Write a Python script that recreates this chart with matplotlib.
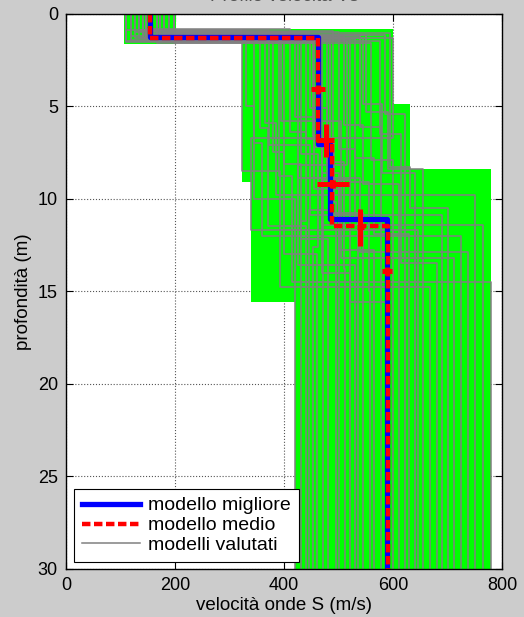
import matplotlib
matplotlib.use("Agg")
import matplotlib.pyplot as plt
import matplotlib.patches as Patches

plt.rcParams['font.family'] = ['Liberation Sans', 'DejaVu Sans']

# search space per layer (green boxes): v min/max, top/bottom depth
box_vmin = [106, 322, 339, 419]
box_vmax = [202, 600, 631, 780]
box_ztop = [0.0, 0.85, 4.9, 8.4]
box_zbot = [1.65, 9.1, 15.6, 30.0]

# evaluated models: layer velocities and interface depths
mod_v1 = [110, 126, 140, 158, 172, 180, 198, 118, 133, 147, 158, 172, 188, 198, 110, 118, 133, 147,
          166, 180, 188, 110, 126, 140, 158, 166, 180, 198, 110, 133, 147, 166, 172, 188, 118, 140]
mod_h1 = [0.9, 1.3, 1.1, 1.5, 1.2, 1.0, 1.6, 1.4, 0.95, 1.25, 1.35, 1.15, 1.45, 1.05, 1.55, 1.2, 1.3, 0.85,
          1.4, 1.1, 1.25, 1.5, 1.0, 1.35, 1.2, 1.6, 1.15, 1.3, 1.45, 0.9, 1.25, 1.05, 1.4, 1.2, 1.5, 1.3]
mod_v2 = [330, 355, 380, 400, 420, 440, 455, 470, 490, 510, 530, 550, 575, 595, 345, 365, 390, 410,
          430, 448, 462, 478, 500, 520, 540, 560, 585, 600, 322, 372, 395, 425, 452, 485, 515, 545]
mod_h2 = [5.0, 6.2, 7.5, 8.1, 5.6, 6.8, 7.2, 8.6, 9.0, 6.0, 7.8, 5.3, 6.5, 8.3, 7.0, 5.9, 8.8, 6.4,
          7.6, 5.1, 6.9, 8.0, 7.3, 9.1, 6.1, 7.9, 5.4, 6.7, 8.5, 7.1, 5.8, 8.9, 6.6, 7.4, 8.2, 4.9]
mod_v3 = [345, 370, 400, 430, 455, 470, 485, 500, 520, 545, 565, 590, 615, 631, 360, 385, 415, 440,
          462, 478, 492, 510, 530, 555, 578, 600, 622, 339, 392, 448, 505, 540, 470, 488, 425, 580]
mod_h3 = [10.0, 11.5, 13.0, 12.2, 9.5, 14.0, 10.8, 12.8, 15.6, 9.2, 11.9, 8.4, 13.5, 10.5, 12.0, 9.8, 14.5, 11.2,
          12.6, 9.0, 10.2, 13.8, 11.0, 15.0, 10.4, 12.4, 9.6, 11.7, 14.8, 10.9, 13.2, 12.9, 11.4, 10.6, 13.6, 8.6]
mod_v4 = [419, 440, 460, 480, 500, 520, 545, 565, 590, 610, 630, 655, 680, 700, 725, 750, 780, 430,
          452, 472, 495, 512, 535, 558, 578, 600, 622, 645, 668, 690, 712, 738, 765, 445, 530, 640]

# best and mean model
best_v = [153, 462, 484, 588]
best_z = [1.25, 7.05, 11.1]
mean_v = [153, 462, 488, 590]
mean_z = [1.3, 6.9, 11.5]

# red crosses (value, depth, v error, z error)
err_v = [462, 476, 490, 540, 589]
err_z = [4.05, 6.85, 9.2, 11.55, 13.9]
err_dv = [13, 15, 29, 6, 9]
err_dz = [0.22, 0.9, 0.2, 1.0, 0.2]

zmax = 30


def stairs(vs, zs):
    vel = [vs[0]]
    dep = [0]
    for i, z in enumerate(zs):
        vel += [vs[i], vs[i + 1]]
        dep += [z, z]
    vel.append(vs[-1])
    dep.append(zmax)
    return vel, dep


fig = plt.figure(figsize=(5.24, 6.17), dpi=100, facecolor='#cccccc')
ax = fig.add_axes([0.1265, 0.0783, 0.8317, 0.8995])
ax.set_facecolor('white')

for v0, v1, z0, z1 in zip(box_vmin, box_vmax, box_ztop, box_zbot):
    ax.add_patch(Patches.Rectangle((v0, z0), v1 - v0, z1 - z0, facecolor='#00ff00',
                                   edgecolor='none', zorder=1))

for i in range(len(mod_v1)):
    vel, dep = stairs([mod_v1[i], mod_v2[i], mod_v3[i], mod_v4[i]],
                      [mod_h1[i], mod_h2[i], mod_h3[i]])
    ax.plot(vel, dep, color='#808080', lw=1.1, zorder=2,
            label='modelli valutati' if i == 0 else None)

vel, dep = stairs(best_v, best_z)
ax.plot(vel, dep, color='#0000ff', lw=3.8, zorder=3, label='modello migliore')
vel, dep = stairs(mean_v, mean_z)
ax.plot(vel, dep, color='#ff0000', lw=3.2, ls=(0, (1.9, 0.8)), zorder=4, label='modello medio')

ax.errorbar(err_v, err_z, xerr=err_dv, yerr=err_dz, fmt='none', ecolor='#ff0000',
            elinewidth=3.6, capsize=0, zorder=5)

ax.set_xlim(0, 800)
ax.set_ylim(zmax, 0)
ax.set_xticks([0, 200, 400, 600, 800])
ax.set_yticks([0, 5, 10, 15, 20, 25, 30])
ax.grid(True, ls=':', color='#555555', lw=0.8)
ax.set_axisbelow(True)
ax.tick_params(direction='in', length=5, top=True, right=True, labelsize=13, pad=6)
for s in ax.spines.values():
    s.set_linewidth(1.0)
    s.set_zorder(6)

ax.set_xlabel('velocità onde S (m/s)', fontsize=13.5, labelpad=2)
ax.set_ylabel('profondità (m)', fontsize=13.5, labelpad=4)

h, l = ax.get_legend_handles_labels()
order = [l.index('modello migliore'), l.index('modello medio'), l.index('modelli valutati')]
leg = ax.legend([h[k] for k in order], [l[k] for k in order], loc='lower left',
                bbox_to_anchor=(0.018, 0.012), borderaxespad=0, fontsize=14,
                handlelength=3.0, labelspacing=0.12, borderpad=0.4, handletextpad=0.4,
                fancybox=False, framealpha=1, edgecolor='black')
leg.get_frame().set_linewidth(0.8)
leg.set_zorder(7)

# title sits mostly above the top edge, as in the reference
fig.text(0.542, 1 - 1.0 / 617, 'Profilo velocità Vs', ha='center', va='baseline',
         fontsize=13.5, color='#555555')

fig.savefig('out.png', dpi=100, facecolor=fig.get_facecolor())
